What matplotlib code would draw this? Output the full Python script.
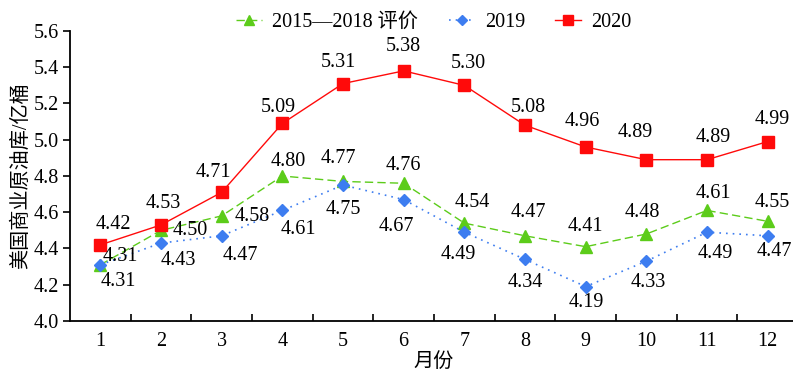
import matplotlib
matplotlib.use("Agg")
import matplotlib.pyplot as plt
from matplotlib.ticker import MultipleLocator, FixedLocator

plt.rcParams['font.family'] = ['Liberation Serif', 'Noto Sans CJK SC']
plt.rcParams['axes.unicode_minus'] = False

months = list(range(1, 13))
avg_2015_2018 = [4.31, 4.50, 4.58, 4.80, 4.77, 4.76, 4.54, 4.47, 4.41, 4.48, 4.61, 4.55]
y2019 = [4.31, 4.43, 4.47, 4.61, 4.75, 4.67, 4.49, 4.34, 4.19, 4.33, 4.49, 4.47]
y2020 = [4.42, 4.53, 4.71, 5.09, 5.31, 5.38, 5.30, 5.08, 4.96, 4.89, 4.89, 4.99]

series_names = ["2015\u20142018 评价", "2019", "2020"]

# label offsets (pixels) from each point, hand-placed to avoid overlaps
off_avg = [(20, 8), (29, 0), (31, -1), (6, 14), (-5, 23), (0, 18),
           (8, 21), (3, 23), (0, 20), (-4, 21), (6, 17), (5, 19)]
off_2019 = [(18, -17), (17, -17), (19, -20), (16, -19), (0, -24), (-7, -27),
            (-6, -22), (0, -23), (1, -16), (2, -21), (8, -21), (7, -16)]
off_2020 = [(13, 20), (2, 21), (-8, 20), (-4, 16), (-5, 21), (0, 24),
            (4, 22), (3, 18), (-3, 25), (-11, 27), (6, 22), (5, 22)]

fig = plt.figure(figsize=(7.93, 3.74), dpi=100)
ax = fig.add_axes([70 / 793, 53 / 374, 728 / 793, 290 / 374])

l1, = ax.plot(months, avg_2015_2018, color="#5ccc1a", linestyle=(0, (6, 3)),
              linewidth=1, marker="^", markersize=9, label=series_names[0])
l2, = ax.plot(months, y2019, color="#3d7df0", linestyle=(0, (1, 3)),
              linewidth=1.2, marker="D", markersize=6.5, label=series_names[1])
l3, = ax.plot(months, y2020, color="#ff0a0a", linestyle="-",
              linewidth=1, marker="s", markersize=9, label=series_names[2])

for vals, offs in ((avg_2015_2018, off_avg), (y2019, off_2019), (y2020, off_2020)):
    for m, v, (dx, dy) in zip(months, vals, offs):
        ax.annotate(f"{v:.2f}", (m, v), xytext=(dx, dy), textcoords="offset pixels",
                    ha="center", va="center", fontsize=14.5)

ax.set_xlim(0.5, 12.5)
ax.set_ylim(4.0, 5.6)
ax.yaxis.set_major_locator(MultipleLocator(0.2))
ax.yaxis.set_major_formatter(plt.FuncFormatter(lambda v, p: f"{v:.1f}"))
ax.set_xticks(months)
ax.xaxis.set_minor_locator(FixedLocator([m + 0.5 for m in months[:-1]]))
ax.tick_params(axis="x", which="major", length=0, pad=8, labelsize=14.5)
ax.tick_params(axis="x", which="minor", direction="in", length=5, width=1.2)
ax.tick_params(axis="y", direction="out", length=5, width=1.2, labelsize=14.5, pad=3)

for s in ("top", "right"):
    ax.spines[s].set_visible(False)
for s in ("left", "bottom"):
    ax.spines[s].set_linewidth(1.3)

ax.set_ylabel("美国商业原油库/亿桶", fontsize=14.5, labelpad=2)
ax.set_xlabel("月份", fontsize=14.5, labelpad=1)

fig.legend(handles=[l1, l2, l3], loc="center", bbox_to_anchor=(434 / 793, 1 - 22 / 374),
           ncol=3, frameon=False, fontsize=14.5, handlelength=1.3, markerscale=0.75,
           handletextpad=0.5, columnspacing=1.5)

fig.savefig("out.png", dpi=100)
